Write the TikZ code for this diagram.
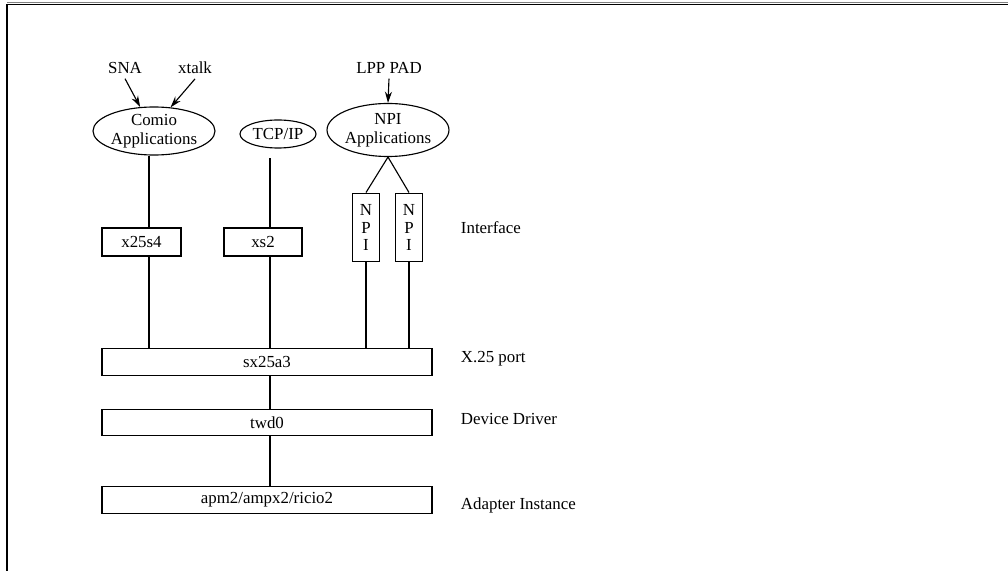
\documentclass[tikz,border=0pt]{standalone}
\usepackage{fontspec}
\setmainfont{Liberation Serif}
\usetikzlibrary{shapes.geometric,arrows.meta}
\begin{document}
\begin{tikzpicture}[x=0.025cm,y=-0.025cm,
	every node/.style={font=\fontsize{12}{13.5}\selectfont},
	layerbox/.style={draw,line width=0.8pt,minimum height=0.7cm,inner sep=0pt},
	portbox/.style={layerbox,minimum width=8.25cm,minimum height=0.66cm},
	appnode/.style={draw,ellipse,line width=0.8pt,inner sep=0pt,align=center},
	npibox/.style={draw,line width=0.8pt,minimum width=0.675cm,minimum height=1.72cm,inner sep=0pt,align=center,font=\fontsize{12}{12.5}\selectfont},
	conn/.style={line width=0.8pt},
	arr/.style={conn,-{Stealth[length=8pt,width=5pt]}}]
	\newcommand{\layerx}{456}
	\useasboundingbox (0,0) rectangle (1008,571);
	%frame
	\draw [line width=1pt, gray] (7,2.5) -- (1008,2.5);
	\draw [line width=1.2pt] (7,4.5) -- (1008,4.5);
	\draw [line width=1.2pt] (7,4) -- (7,571);
	%applications
	\node [appnode,minimum width=3.05cm,minimum height=1.2cm] (comio) at (154,131) {Comio\\Applications};
	\node [appnode,minimum width=1.9cm,minimum height=0.7cm] (tcpip) at (278,134) {TCP/IP};
	\node [appnode,minimum width=2.625cm,minimum height=1.325cm] (npiapp) at (388,130) {NPI\\Applications};
	%users on top
	\node (sna) at (125,68) {SNA};
	\node (xtalk) at (195,68) {xtalk};
	\node (lpppad) at (389,68) {LPP PAD};
	\draw [arr] (sna.south) -- (comio.120);
	\draw [arr] (xtalk.south) -- (comio.55);
	\draw [arr] (lpppad.south) -- (npiapp.north);
	%interface
	\node [layerbox,minimum width=1.975cm] (x25s4) at (141.5,242) {x25s4};
	\node [layerbox,minimum width=1.95cm] (xs2) at (263,242) {xs2};
	\node [npibox] (npione) at (366,227.5) {N\\P\\I};
	\node [npibox] (npitwo) at (409,227.5) {N\\P\\I};
	%lower layers
	\node [portbox] (sx25a3) at (267,362) {sx25a3};
	\node [portbox] (twd0) at (267,422.5) {twd0};
	\node [portbox] (apm2) at (267,500) {apm2/ampx2/ricio2};
	%layer names
	\node [anchor=west] (lblif) at (\layerx,228) {Interface};
	\node [anchor=west] (lblport) at (\layerx,359) {X.25 port};
	\node [anchor=west] (lbldrv) at (\layerx,419) {Device Driver};
	\node [anchor=west] (lbladp) at (\layerx,505) {Adapter Instance};
	%columns
	\coordinate (cola) at (149,0);
	\coordinate (colb) at (270,0);
	%connectors
	\draw [conn] (comio.south -| cola) -- (x25s4.north -| cola);
	\draw [conn] (x25s4.south -| cola) -- (sx25a3.north -| cola);
	\draw [conn,shorten <=7pt] (tcpip.south -| colb) -- (xs2.north -| colb);
	\draw [conn] (xs2.south -| colb) -- (sx25a3.north -| colb);
	\draw [conn] (npiapp.south) -- (npione.north);
	\draw [conn] (npiapp.south) -- (npitwo.north);
	\draw [conn] (npione.south) -- (npione.south |- sx25a3.north);
	\draw [conn] (npitwo.south) -- (npitwo.south |- sx25a3.north);
	\draw [conn] (sx25a3.south -| colb) -- (twd0.north -| colb);
	\draw [conn] (twd0.south -| colb) -- (apm2.north -| colb);
\end{tikzpicture}
\end{document}
